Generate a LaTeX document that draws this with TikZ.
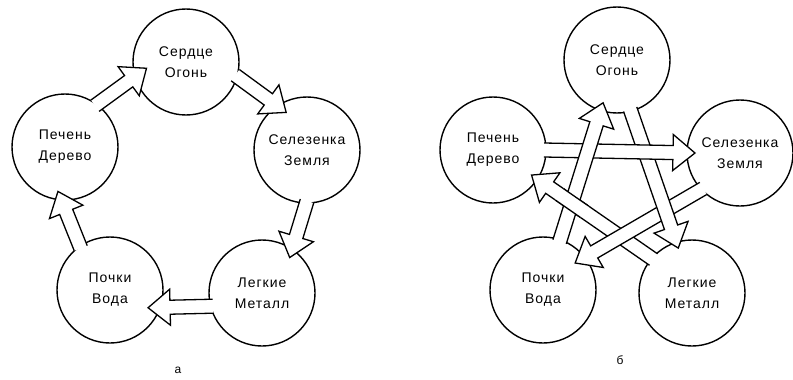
\documentclass[tikz,border=0pt]{standalone}
\usepackage{fontspec}
\setmainfont{Liberation Sans}[LetterSpace=7]
\usetikzlibrary{calc}

\newcommand{\shaftw}{7pt}
\newcommand{\headw}{18pt}
\newcommand{\headl}{22pt}

\tikzset{
  organ/.style={shape=circle, draw, line width=1.4pt, minimum size=106pt,
    inner sep=0pt, align=center, font=\fontsize{14}{21}\selectfont},
  hollow arrow/.style={draw, fill=white, line width=1.3pt, line join=miter,
    to path={let \p1=(\tikztostart), \p2=(\tikztotarget),
      \n1={atan2(\y2-\y1,\x2-\x1)}, \n2={veclen(\x2-\x1,\y2-\y1)} in
      ($(\p1)+(\n1+90:\shaftw)$)
      -- ($(\p1)+(\n1+90:\shaftw)+(\n1:\n2-\headl)$)
      -- ($(\p1)+(\n1+90:\headw)+(\n1:\n2-\headl)$)
      -- (\p2)
      -- ($(\p1)+(\n1-90:\headw)+(\n1:\n2-\headl)$)
      -- ($(\p1)+(\n1-90:\shaftw)+(\n1:\n2-\headl)$)
      -- ($(\p1)+(\n1-90:\shaftw)$)}},
  caption/.style={font=\fontsize{12}{12}\selectfont}
}

\begin{document}
\begin{tikzpicture}[x=1pt, y=1pt]
  \useasboundingbox (0,0) rectangle (793,-380);

  % a: cycle
  \node[organ] (heartA)  at (186,-62)  {Сердце\\Огонь};
  \node[organ] (spleenA) at (307,-150) {Селезенка\\Земля};
  \node[organ] (lungsA)  at (262,-293) {Легкие\\Металл};
  \node[organ] (kidneyA) at (110,-290) {Почки\\Вода};
  \node[organ] (liverA)  at (65,-147)  {Печень\\Дерево};

  \draw[hollow arrow] ($(liverA)+(54:51)$)   to ($(heartA)+(189:40)$);
  \draw[hollow arrow] ($(heartA)+(-15:51)$)  to ($(spleenA)+(119:43)$);
  \draw[hollow arrow] ($(spleenA)+(-90:51)$) to ($(lungsA)+(52:45)$);
  \draw[hollow arrow] ($(lungsA)+(195:51)$)  to ($(kidneyA)+(-25:42)$);
  \draw[hollow arrow] ($(kidneyA)+(125:51)$) to ($(liverA)+(-99:45)$);

  \node[caption] (capA) at (178,-370) {а};

  % b: star
  \node[organ] (heartB)  at (617,-60)  {Сердце\\Огонь};
  \node[organ] (spleenB) at (740,-153) {Селезенка\\Земля};
  \node[organ] (lungsB)  at (692,-293) {Легкие\\Металл};
  \node[organ] (kidneyB) at (543,-290) {Почки\\Вода};
  \node[organ] (liverB)  at (493,-150) {Печень\\Дерево};

  \draw[hollow arrow] ($(lungsB)+(139:51)$)  to ($(liverB)+(-33:46)$);
  \draw[hollow arrow] ($(spleenB)+(224:51)$) to ($(kidneyB)+(40:42)$);
  \draw[hollow arrow] ($(heartB)+(-75:51)$)  to ($(lungsB)+(107:47)$);
  \draw[hollow arrow] ($(liverB)+(0:51)$)    to ($(spleenB)+(180:45)$);
  \draw[hollow arrow] ($(kidneyB)+(71:51)$)  to ($(heartB)+(-108:45)$);
  % lungs -> liver passes over kidney -> heart
  \begin{scope}
    \clip (572,-203) circle (17);
    \draw[hollow arrow] ($(lungsB)+(139:51)$) to ($(liverB)+(-33:46)$);
  \end{scope}

  \node[caption] (capB) at (620,-360) {б};
\end{tikzpicture}
\end{document}
